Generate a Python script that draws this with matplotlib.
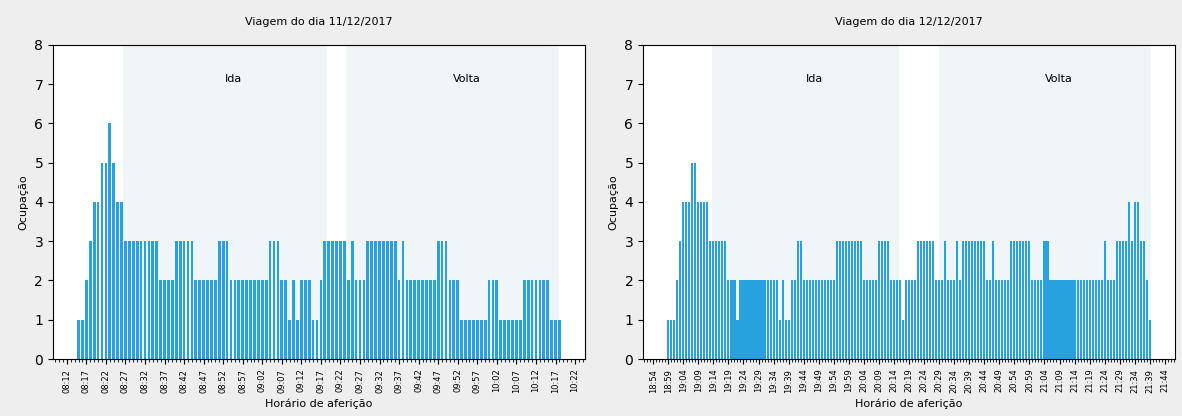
import pandas as pd
import matplotlib
matplotlib.use("Agg")
import matplotlib.pyplot as plt
import matplotlib.dates as mdates

# ocupacao medida a cada minuto
dia1_inicio = "2017-12-11 08:15"
dia1_valores = [1, 1, 2, 3, 4, 4, 5, 5, 6, 5, 4, 4,
                3, 3, 3, 3, 3, 3, 3, 3, 3,
                2, 2, 2, 2, 3, 3, 3, 3, 3, 2, 2, 2, 2, 2, 2,
                3, 3, 3, 2, 2, 2, 2, 2, 2, 2, 2, 2, 2, 3, 3, 3,
                2, 2, 1, 2, 1, 2, 2, 2, 1, 1, 2,
                3, 3, 3, 3, 3, 3, 2, 3, 2, 2, 2,
                3, 3, 3, 3, 3, 3, 3, 3, 2, 3,
                2, 2, 2, 2, 2, 2, 2, 2, 3, 3, 3, 2, 2, 2,
                1, 1, 1, 1, 1, 1, 1, 2, 2, 2,
                1, 1, 1, 1, 1, 1, 2, 2, 2, 2, 2, 2, 2, 1, 1, 1]
dia1_ida = ("2017-12-11 08:26:25", "2017-12-11 09:18:35")
dia1_volta = ("2017-12-11 09:23:25", "2017-12-11 10:17:55")
dia1_ticks = ("2017-12-11 08:12", "2017-12-11 10:22")

dia2_inicio = "2017-12-12 18:59"
dia2_valores = [1, 1, 1, 2, 3, 4, 4, 4, 5, 5, 4, 4, 4, 4,
                3, 3, 3, 3, 3, 3, 2, 2, 2, 1,
                2, 2, 2, 2, 2, 2, 2, 2, 2, 2, 2, 2, 2,
                1, 2, 1, 1, 2, 2, 3, 3,
                2, 2, 2, 2, 2, 2, 2, 2, 2, 2, 2,
                3, 3, 3, 3, 3, 3, 3, 3, 3,
                2, 2, 2, 2, 2, 3, 3, 3, 3, 2, 2, 2, 2, 1,
                2, 2, 2, 2, 3, 3, 3, 3, 3, 3, 2, 2, 2, 3, 2, 2, 2, 3, 2,
                3, 3, 3, 3, 3, 3, 3, 3, 2, 2, 3, 2, 2, 2, 2, 2,
                3, 3, 3, 3, 3, 3, 3, 2, 2, 2, 2, 3, 3,
                2, 2, 2, 2, 2, 2, 2, 2, 2, 2, 2, 2, 2, 2, 2, 2, 2, 2,
                3, 2, 2, 2, 3, 3, 3, 3, 4, 3, 4, 4, 3, 3, 2, 1]
dia2_ida = ("2017-12-12 19:13:30", "2017-12-12 20:15:40")
dia2_volta = ("2017-12-12 20:29:00", "2017-12-12 21:39:15")
dia2_ticks = ("2017-12-12 18:54", "2017-12-12 21:44")

titulos = ["Viagem do dia 11/12/2017", "Viagem do dia 12/12/2017"]


def desenha(ax, inicio, valores, ida, volta, ticks, titulo):
    tempos = pd.date_range(inicio, periods=len(valores), freq="min")
    for (a, b), nome in [(ida, "Ida"), (volta, "Volta")]:
        a, b = pd.Timestamp(a), pd.Timestamp(b)
        ax.axvspan(a, b, color="#1f77b4", alpha=0.07, lw=0, zorder=0)
        ax.text(a + (b - a) / 2, 7, nome, ha="left", va="bottom", fontsize=8)
    ax.bar(tempos, valores, width=0.7 / 1440, color="#27a2de", zorder=2)
    ax.set_ylim(0, 8)
    ax.set_xticks(pd.date_range(ticks[0], ticks[1], freq="5min"))
    ax.xaxis.set_major_formatter(mdates.DateFormatter("%H:%M"))
    ax.xaxis.set_minor_locator(mdates.MinuteLocator())
    ax.tick_params(axis="x", labelsize=6, labelrotation=90)
    ax.set_title(titulo, fontsize=8, pad=14)
    ax.set_xlabel("Horário de aferição", fontsize=8)
    ax.set_ylabel("Ocupação", fontsize=8)


fig = plt.figure(figsize=(11.82, 4.16), dpi=100, facecolor="#eeeeee")
ax1 = fig.add_axes([0.0448, 0.137, 0.4501, 0.755])
ax2 = fig.add_axes([0.544, 0.137, 0.4501, 0.755])
desenha(ax1, dia1_inicio, dia1_valores, dia1_ida, dia1_volta, dia1_ticks, titulos[0])
desenha(ax2, dia2_inicio, dia2_valores, dia2_ida, dia2_volta, dia2_ticks, titulos[1])

fig.savefig("out.png", facecolor=fig.get_facecolor())
